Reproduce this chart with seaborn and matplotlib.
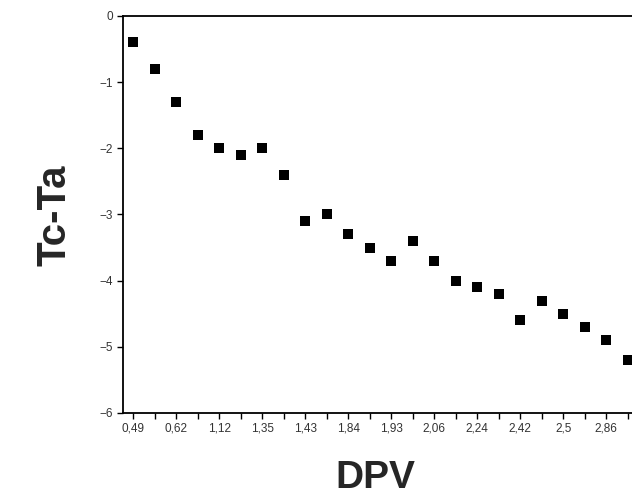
import numpy as np
import pandas as pd
import matplotlib
matplotlib.use("Agg")
import matplotlib.pyplot as plt
import seaborn as sns

# values (24 categories, labels shown on every other one)
tc_ta = [-0.4, -0.8, -1.3, -1.8, -2.0, -2.1, -2.0, -2.4, -3.1, -3.0, -3.3, -3.5,
         -3.7, -3.4, -3.7, -4.0, -4.1, -4.2, -4.6, -4.3, -4.5, -4.7, -4.9, -5.2]
dpv_labels = ['0,49', '0,62', '1,12', '1,35', '1,43', '1,84',
              '1,93', '2,06', '2,24', '2,42', '2,5', '2,86']
y_ticks = [0, -1, -2, -3, -4, -5, -6]

df = pd.DataFrame({'pos': np.arange(len(tc_ta)), 'tc_ta': tc_ta})

sns.set_style("ticks")
plt.rcParams['font.family'] = ['Liberation Sans', 'DejaVu Sans']

fig = plt.figure(figsize=(6.32, 5.03), dpi=100)
ax = fig.add_axes([123/632, 1 - 413/503, (632-123)/632, (413-16)/503])

sns.scatterplot(data=df, x='pos', y='tc_ta', ax=ax, marker='s', s=55,
                color='black', edgecolor='black', linewidth=0, legend=False)

ax.set_xlim(-0.47, 23.2)
ax.set_ylim(-6, 0)
ax.set_xlabel('')
ax.set_ylabel('')

# tick on every category, label on every second one
labels = []
for i in range(len(tc_ta)):
    labels.append(dpv_labels[i // 2] if i % 2 == 0 else '')
ax.set_xticks(df['pos'])
ax.set_xticklabels(labels, fontsize=8.5, color='#333333')
ax.set_yticks(y_ticks)
ax.set_yticklabels([str(t) if t == 0 else '\u2212' + str(-t) for t in y_ticks],
                   fontsize=8.5, color='#333333')
ax.tick_params(length=4, width=1, color='black', pad=3)

for side in ['left', 'top', 'bottom']:
    ax.spines[side].set_color('black')
    ax.spines[side].set_linewidth(1.3)
ax.spines['right'].set_visible(False)

fig.text(375/632, 1 - 478/503, 'DPV', ha='center', va='center',
         fontsize=28, fontweight='bold')
fig.text(54/632, 1 - 215/503, 'Tc-Ta', ha='center', va='center',
         rotation=90, fontsize=29, fontweight='bold')

fig.savefig('out.png', dpi=100)
